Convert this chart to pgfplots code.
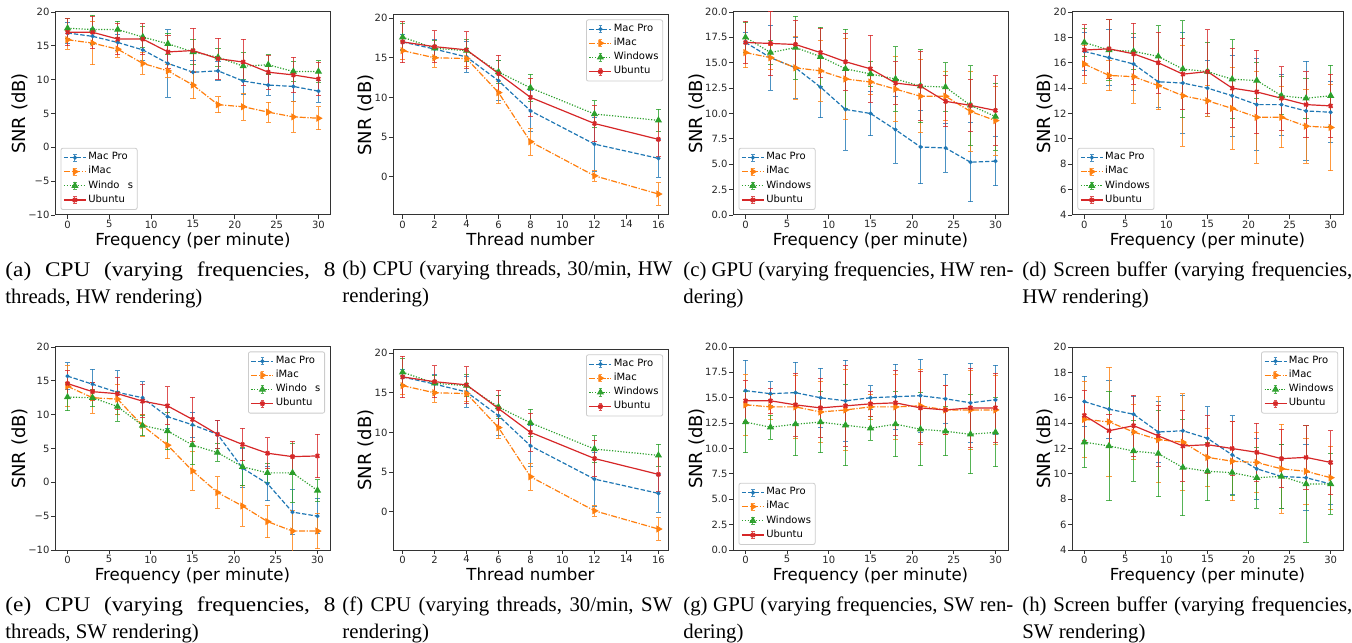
\documentclass[border=0pt]{standalone}
\usepackage{fontspec}
\setmainfont{DejaVu Sans}
\newfontfamily\capfont{Liberation Serif}
\newfontfamily\capwide[FakeStretch=1.12]{Liberation Serif}
\usepackage{pgfplots}
\pgfplotsset{compat=1.18}

\definecolor{c0}{HTML}{1F77B4}
\definecolor{c1}{HTML}{FF7F0E}
\definecolor{c2}{HTML}{2CA02C}
\definecolor{c3}{HTML}{D62728}

\pgfplotsset{
  panel/.style={
    scale only axis,
    axis line style={black!80, line width=0.5pt},
    tick align=outside, tick pos=left,
    major tick length=1.8pt,
    tick style={black!80, line width=0.4pt},
    tick label style={font=\fontsize{5}{6}\selectfont, text=black!85, inner sep=0.8pt},
    /pgf/number format/assume math mode=true,
    xlabel style={font=\fontsize{8.3}{9}\selectfont, inner sep=0pt, yshift=-1.3pt},
    ylabel style={font=\fontsize{9}{10}\selectfont, inner sep=0pt, yshift=-0.8pt},
    legend cell align=left,
    legend style={font=\fontsize{5}{6}\selectfont, draw=black!20, rounded corners=1pt,
      fill=white, fill opacity=0.8, text opacity=1, inner sep=1.2pt, row sep=0pt,
      nodes={inner sep=0.9pt}},
    legend image code/.code={
      \draw[##1, mark=none] (0pt,0pt) -- (11pt,0pt);
      \draw[##1, solid, mark=none, line width=0.45pt, opacity=0.8]
        (5.5pt,-1.8pt) -- (5.5pt,1.8pt)
        (4.6pt,-1.8pt) -- (6.4pt,-1.8pt)
        (4.6pt,1.8pt) -- (6.4pt,1.8pt);
      \draw[##1, only marks] plot coordinates {(5.5pt,0pt)};
    },
  },
  fpanel/.style={panel, xmin=-1.5, xmax=31.5, xtick={0,5,...,30}, xlabel={Frequency (per minute)}, ylabel={SNR (dB)}},
  tpanel/.style={panel, xmin=-0.6, xmax=16.6, xtick={0,2,...,16}, ylabel={SNR (dB)}, xlabel={Thread number},
    ymin=-4.85, ymax=20.4, ytick={0,5,...,20}},
  wide/.style={ymin=-10, ymax=20, ytick={-10,-5,...,20}, yticklabels={−10,−5,0,5,10,15,20}},
  gpu/.style={ymin=0, ymax=20, ytick={0,2.5,...,20},
    yticklabel style={/pgf/number format/.cd, fixed, fixed zerofill, precision=1}},
  buf/.style={ymin=4, ymax=20, ytick={4,6,...,20}},
  LL/.style={legend style={at={(0.02,0.025)}, anchor=south west}},
  UR/.style={legend style={at={(0.982,0.978)}, anchor=north east}},
  errs/.style={
    error bars/y dir=both, error bars/y explicit,
    error bars/error bar style={solid, line width=0.45pt, opacity=0.8, #1},
    error bars/error mark options={rotate=90, mark size=1.3pt, line width=0.45pt, solid, opacity=0.8, #1},
  },
  macpro/.style={c0, line width=0.6pt, dash pattern=on 2.2pt off 1pt,
    mark=*, mark size=0.7pt, mark options={solid, fill=c0}, errs=c0},
  imac/.style={c1, line width=0.6pt, dash pattern=on 3pt off 0.8pt on 0.6pt off 0.8pt,
    mark=triangle*, mark size=1.5pt, mark options={solid, rotate=-90, fill=c1}, errs=c1},
  windows/.style={c2, line width=0.6pt, dash pattern=on 0.6pt off 0.8pt,
    mark=triangle*, mark size=1.5pt, mark options={solid, fill=c2}, errs=c2},
  ubuntu/.style={c3, line width=0.6pt, solid,
    mark=x, mark size=1.3pt, mark options={solid, line width=0.9pt}, errs=c3},
}

\begin{document}
\begin{tikzpicture}[x=1pt, y=1pt]
\useasboundingbox (0,0) rectangle (676,321);

% ---------------- (a) CPU, frequencies, HW ----------------
\begin{axis}[fpanel, wide, LL, at={(27.5pt,213.5pt)}, anchor=south west, width=138pt, height=101.5pt]
\addplot[macpro] coordinates {(0,16.9)+-(0,1.5) (3,16.4)+-(0,1.2) (6,15.5)+-(0,1.2) (9,14.4)+-(0,1.5) (12,12.4)+-(0,5.0) (15,11.1)+-(0,1.8) (18,11.3)+-(0,1.4) (21,9.8)+-(0,2.0) (24,9.2)+-(0,1.5) (27,9.0)+-(0,2.2) (30,8.3)+-(0,1.6)};
\addplot[imac] coordinates {(0,15.9)+-(0,1.4) (3,15.4)+-(0,3.2) (6,14.5)+-(0,1.2) (9,12.4)+-(0,1.6) (12,11.3)+-(0,1.0) (15,9.2)+-(0,2.0) (18,6.3)+-(0,1.2) (21,6.0)+-(0,2.0) (24,5.2)+-(0,1.5) (27,4.5)+-(0,2.3) (30,4.3)+-(0,1.7)};
\addplot[windows] coordinates {(0,17.6)+-(0,1.5) (3,17.4)+-(0,2.1) (6,17.4)+-(0,1.2) (9,16.3)+-(0,1.6) (12,15.3)+-(0,1.6) (15,14.1)+-(0,1.9) (18,13.3)+-(0,1.3) (21,12.0)+-(0,2.0) (24,12.2)+-(0,1.5) (27,11.2)+-(0,1.5) (30,11.2)+-(0,1.6)};
\addplot[ubuntu] coordinates {(0,17.0)+-(0,2.0) (3,17.0)+-(0,2.4) (6,16.0)+-(0,2.3) (9,16.0)+-(0,2.3) (12,14.1)+-(0,2.4) (15,14.3)+-(0,3.3) (18,13.1)+-(0,3.0) (21,12.6)+-(0,3.4) (24,11.1)+-(0,2.5) (27,10.7)+-(0,2.6) (30,10.1)+-(0,2.5)};
\legend{Mac Pro, iMac, Windo\phantom{w}s, Ubuntu}
\end{axis}

% ---------------- (b) CPU, threads, HW ----------------
\begin{axis}[tpanel, UR, at={(196.5pt,213.5pt)}, anchor=south west, width=137.5pt, height=100pt]
\addplot[macpro] coordinates {(0,17.0)+-(0,1.0) (2,16.1)+-(0,1.2) (4,15.1)+-(0,1.9) (6,12.1)+-(0,2.5) (8,8.3)+-(0,2.6) (12,4.1)+-(0,3.4) (16,2.3)+-(0,2.4)};
\addplot[imac] coordinates {(0,15.9)+-(0,1.1) (2,15.0)+-(0,1.2) (4,14.9)+-(0,1.0) (6,10.6)+-(0,1.4) (8,4.4)+-(0,1.7) (12,0.1)+-(0,0.7) (16,-2.2)+-(0,1.4)};
\addplot[windows] coordinates {(0,17.6)+-(0,1.7) (2,16.2)+-(0,1.0) (4,15.9)+-(0,1.4) (6,13.2)+-(0,1.4) (8,11.2)+-(0,1.7) (12,7.9)+-(0,1.7) (16,7.1)+-(0,1.4)};
\addplot[ubuntu] coordinates {(0,17.0)+-(0,2.6) (2,16.4)+-(0,2.0) (4,16.0)+-(0,2.3) (6,13.0)+-(0,2.3) (8,10.0)+-(0,2.4) (12,6.7)+-(0,2.3) (16,4.7)+-(0,2.2)};
\legend{Mac Pro, iMac, Windows, Ubuntu}
\end{axis}

% ---------------- (c) GPU, frequencies, HW ----------------
\begin{axis}[fpanel, gpu, LL, at={(366.5pt,213.5pt)}, anchor=south west, width=137.5pt, height=101.5pt]
\addplot[macpro] coordinates {(0,17.0)+-(0,1.0) (3,15.5)+-(0,3.2) (6,14.5)+-(0,3.0) (9,12.6)+-(0,3.0) (12,10.4)+-(0,4.0) (15,10.0)+-(0,2.2) (18,8.4)+-(0,3.3) (21,6.7)+-(0,3.6) (24,6.6)+-(0,2.4) (27,5.2)+-(0,3.9) (30,5.3)+-(0,2.4)};
\addplot[imac] coordinates {(0,16.0)+-(0,1.5) (3,15.5)+-(0,1.2) (6,14.5)+-(0,3.1) (9,14.2)+-(0,3.0) (12,13.4)+-(0,4.0) (15,13.1)+-(0,1.2) (18,12.4)+-(0,3.2) (21,11.7)+-(0,3.6) (24,11.7)+-(0,2.4) (27,10.2)+-(0,3.9) (30,9.3)+-(0,3.4)};
\addplot[windows] coordinates {(0,17.5)+-(0,1.5) (3,16.0)+-(0,1.2) (6,16.5)+-(0,3.1) (9,15.6)+-(0,2.9) (12,14.4)+-(0,3.9) (15,13.9)+-(0,1.2) (18,13.4)+-(0,3.2) (21,12.7)+-(0,3.6) (24,12.6)+-(0,2.4) (27,10.8)+-(0,3.9) (30,9.7)+-(0,3.3)};
\addplot[ubuntu] coordinates {(0,17.0)+-(0,2.1) (3,16.9)+-(0,3.2) (6,16.8)+-(0,2.4) (9,16.0)+-(0,2.4) (12,15.1)+-(0,2.8) (15,14.4)+-(0,3.3) (18,13.0)+-(0,2.1) (21,12.7)+-(0,3.4) (24,11.2)+-(0,2.5) (27,10.8)+-(0,2.6) (30,10.3)+-(0,3.4)};
\legend{Mac Pro, iMac, Windows, Ubuntu}
\end{axis}

% ---------------- (d) Screen buffer, frequencies, HW ----------------
\begin{axis}[fpanel, buf, LL, at={(536pt,213.5pt)}, anchor=south west, width=135.5pt, height=101.5pt]
\addplot[macpro] coordinates {(0,16.9)+-(0,1.5) (3,16.4)+-(0,2.2) (6,15.9)+-(0,2.1) (9,14.5)+-(0,2.0) (12,14.4)+-(0,4.0) (15,14.0)+-(0,2.2) (18,13.4)+-(0,3.2) (21,12.7)+-(0,3.6) (24,12.7)+-(0,2.4) (27,12.2)+-(0,3.9) (30,12.1)+-(0,2.4)};
\addplot[imac] coordinates {(0,15.9)+-(0,1.5) (3,15.0)+-(0,1.2) (6,14.9)+-(0,2.1) (9,14.2)+-(0,1.9) (12,13.4)+-(0,4.0) (15,13.0)+-(0,1.2) (18,12.4)+-(0,3.2) (21,11.7)+-(0,3.6) (24,11.7)+-(0,2.4) (27,11.0)+-(0,2.9) (30,10.9)+-(0,3.4)};
\addplot[windows] coordinates {(0,17.6)+-(0,1.1) (3,17.0)+-(0,2.4) (6,16.9)+-(0,1.4) (9,16.5)+-(0,2.4) (12,15.5)+-(0,3.8) (15,15.3)+-(0,2.3) (18,14.7)+-(0,3.1) (21,14.6)+-(0,1.4) (24,13.4)+-(0,1.5) (27,13.2)+-(0,1.6) (30,13.4)+-(0,2.4)};
\addplot[ubuntu] coordinates {(0,17.0)+-(0,2.0) (3,17.1)+-(0,2.3) (6,16.7)+-(0,2.4) (9,16.0)+-(0,2.4) (12,15.1)+-(0,2.8) (15,15.3)+-(0,3.3) (18,14.0)+-(0,3.1) (21,13.7)+-(0,3.3) (24,13.2)+-(0,2.5) (27,12.7)+-(0,2.6) (30,12.6)+-(0,2.5)};
\legend{Mac Pro, iMac, Windows, Ubuntu}
\end{axis}

% ---------------- (e) CPU, frequencies, SW ----------------
\begin{axis}[fpanel, wide, UR, at={(27.5pt,46pt)}, anchor=south west, width=137.5pt, height=101.5pt]
\addplot[macpro] coordinates {(0,15.7)+-(0,2.0) (3,14.5)+-(0,2.2) (6,13.3)+-(0,3.2) (9,12.5)+-(0,2.4) (12,9.7)+-(0,1.8) (15,8.5)+-(0,1.9) (18,7.1)+-(0,2.1) (21,2.1)+-(0,2.9) (24,-0.2)+-(0,2.5) (27,-4.4)+-(0,3.3) (30,-5.0)+-(0,2.6)};
\addplot[imac] coordinates {(0,14.2)+-(0,3.0) (3,12.5)+-(0,2.3) (6,12.3)+-(0,2.2) (9,8.4)+-(0,1.6) (12,5.5)+-(0,2.0) (15,1.7)+-(0,2.9) (18,-1.5)+-(0,2.3) (21,-3.5)+-(0,3.0) (24,-5.8)+-(0,2.4) (27,-7.2)+-(0,3.0) (30,-7.2)+-(0,2.6)};
\addplot[windows] coordinates {(0,12.6)+-(0,2.0) (3,12.5)+-(0,1.3) (6,11.2)+-(0,2.2) (9,8.4)+-(0,1.5) (12,7.6)+-(0,2.8) (15,5.5)+-(0,2.9) (18,4.4)+-(0,1.3) (21,2.3)+-(0,2.8) (24,1.4)+-(0,1.4) (27,1.4)+-(0,4.4) (30,-1.2)+-(0,1.6)};
\addplot[ubuntu] coordinates {(0,14.6)+-(0,2.0) (3,13.4)+-(0,1.3) (6,13.1)+-(0,2.4) (9,12.0)+-(0,2.4) (12,11.3)+-(0,2.8) (15,9.3)+-(0,3.3) (18,7.1)+-(0,2.1) (21,5.6)+-(0,2.4) (24,4.3)+-(0,2.3) (27,3.8)+-(0,2.3) (30,3.9)+-(0,3.2)};
\legend{Mac Pro, iMac, Windo\phantom{w}s, Ubuntu}
\end{axis}

% ---------------- (f) CPU, threads, SW ----------------
\begin{axis}[tpanel, UR, at={(196.5pt,46pt)}, anchor=south west, width=137.5pt, height=100pt]
\addplot[macpro] coordinates {(0,17.0)+-(0,1.0) (2,16.1)+-(0,1.2) (4,15.1)+-(0,1.9) (6,12.1)+-(0,2.5) (8,8.3)+-(0,2.6) (12,4.1)+-(0,3.4) (16,2.3)+-(0,2.4)};
\addplot[imac] coordinates {(0,15.9)+-(0,1.1) (2,15.0)+-(0,1.2) (4,14.9)+-(0,1.0) (6,10.6)+-(0,1.4) (8,4.4)+-(0,1.7) (12,0.1)+-(0,0.7) (16,-2.2)+-(0,1.4)};
\addplot[windows] coordinates {(0,17.6)+-(0,1.7) (2,16.2)+-(0,1.0) (4,15.9)+-(0,1.4) (6,13.2)+-(0,1.4) (8,11.2)+-(0,1.7) (12,7.9)+-(0,1.7) (16,7.1)+-(0,1.4)};
\addplot[ubuntu] coordinates {(0,17.0)+-(0,2.6) (2,16.4)+-(0,2.0) (4,16.0)+-(0,2.3) (6,13.0)+-(0,2.3) (8,10.0)+-(0,2.4) (12,6.7)+-(0,2.3) (16,4.7)+-(0,2.2)};
\legend{Mac Pro, iMac, Windows, Ubuntu}
\end{axis}

% ---------------- (g) GPU, frequencies, SW ----------------
\begin{axis}[fpanel, gpu, LL, at={(366.5pt,46pt)}, anchor=south west, width=137.5pt, height=101.5pt]
\addplot[macpro] coordinates {(0,15.7)+-(0,3.0) (3,15.4)+-(0,1.2) (6,15.5)+-(0,3.0) (9,15.0)+-(0,2.9) (12,14.7)+-(0,4.0) (15,15.0)+-(0,1.2) (18,15.1)+-(0,3.2) (21,15.2)+-(0,3.6) (24,14.9)+-(0,2.4) (27,14.5)+-(0,3.9) (30,14.8)+-(0,3.4)};
\addplot[imac] coordinates {(0,14.3)+-(0,3.0) (3,14.1)+-(0,1.2) (6,14.1)+-(0,3.1) (9,13.6)+-(0,3.0) (12,13.8)+-(0,4.0) (15,14.1)+-(0,1.2) (18,14.1)+-(0,3.2) (21,14.2)+-(0,3.6) (24,13.8)+-(0,2.4) (27,13.8)+-(0,3.9) (30,13.8)+-(0,3.4)};
\addplot[windows] coordinates {(0,12.6)+-(0,3.0) (3,12.1)+-(0,1.2) (6,12.4)+-(0,3.1) (9,12.6)+-(0,3.0) (12,12.3)+-(0,4.0) (15,12.0)+-(0,1.2) (18,12.4)+-(0,3.2) (21,11.9)+-(0,3.6) (24,11.7)+-(0,2.4) (27,11.4)+-(0,3.9) (30,11.6)+-(0,3.4)};
\addplot[ubuntu] coordinates {(0,14.7)+-(0,2.0) (3,14.7)+-(0,1.2) (6,14.3)+-(0,3.1) (9,14.0)+-(0,2.9) (12,14.2)+-(0,4.0) (15,14.4)+-(0,1.2) (18,14.5)+-(0,3.2) (21,14.0)+-(0,3.6) (24,13.8)+-(0,2.4) (27,14.0)+-(0,3.9) (30,14.0)+-(0,3.4)};
\legend{Mac Pro, iMac, Windows, Ubuntu}
\end{axis}

% ---------------- (h) Screen buffer, frequencies, SW ----------------
\begin{axis}[fpanel, buf, UR, at={(536pt,46pt)}, anchor=south west, width=135.5pt, height=101.5pt]
\addplot[macpro] coordinates {(0,15.7)+-(0,2.0) (3,15.1)+-(0,2.3) (6,14.7)+-(0,1.4) (9,13.3)+-(0,2.4) (12,13.4)+-(0,2.8) (15,12.8)+-(0,2.5) (18,11.5)+-(0,3.1) (21,10.4)+-(0,2.4) (24,9.8)+-(0,2.5) (27,9.7)+-(0,2.6) (30,9.2)+-(0,1.6)};
\addplot[imac] coordinates {(0,14.3)+-(0,3.0) (3,14.1)+-(0,4.3) (6,13.3)+-(0,2.2) (9,12.7)+-(0,3.4) (12,12.5)+-(0,3.8) (15,11.3)+-(0,2.3) (18,11.0)+-(0,3.1) (21,10.9)+-(0,2.4) (24,10.4)+-(0,3.5) (27,10.2)+-(0,2.6) (30,9.7)+-(0,2.5)};
\addplot[windows] coordinates {(0,12.5)+-(0,2.0) (3,12.2)+-(0,4.3) (6,11.8)+-(0,2.4) (9,11.6)+-(0,3.4) (12,10.5)+-(0,3.8) (15,10.2)+-(0,2.3) (18,10.1)+-(0,1.8) (21,9.7)+-(0,2.4) (24,9.8)+-(0,2.5) (27,9.2)+-(0,4.6) (30,9.2)+-(0,2.4)};
\addplot[ubuntu] coordinates {(0,14.6)+-(0,2.0) (3,13.4)+-(0,1.3) (6,13.8)+-(0,2.4) (9,13.0)+-(0,2.4) (12,12.2)+-(0,2.8) (15,12.3)+-(0,2.3) (18,12.0)+-(0,2.1) (21,11.7)+-(0,2.3) (24,11.2)+-(0,2.3) (27,11.3)+-(0,2.5) (30,10.9)+-(0,2.5)};
\legend{Mac Pro, iMac, Windows, Ubuntu}
\end{axis}

% ---------------- captions ----------------
\tikzset{capnode/.style={anchor=north west, inner sep=0pt, text width=165pt, align=justify,
  font=\capfont\fontsize{10.4}{13.5}\selectfont\frenchspacing}}
\node[capnode] at (2.5,190.5) {{\capwide(a) CPU (varying frequencies, 8}\linebreak threads, HW rendering)};
\node[capnode] at (171,190.5) {(b) CPU (varying threads, 30/min, HW\linebreak rendering)};
\node[capnode] at (341.5,190.5) {(c) GPU (varying frequencies, HW ren-\linebreak dering)};
\node[capnode] at (511,190.5) {(d) Screen buffer (varying frequencies,\linebreak HW rendering)};
\node[capnode] at (2.5,23) {{\capwide(e) CPU (varying frequencies, 8}\linebreak threads, SW rendering)};
\node[capnode] at (171,23) {(f) CPU (varying threads, 30/min, SW\linebreak rendering)};
\node[capnode] at (341.5,23) {(g) GPU (varying frequencies, SW ren-\linebreak dering)};
\node[capnode] at (511,23) {(h) Screen buffer (varying frequencies,\linebreak SW rendering)};
\end{tikzpicture}
\end{document}
